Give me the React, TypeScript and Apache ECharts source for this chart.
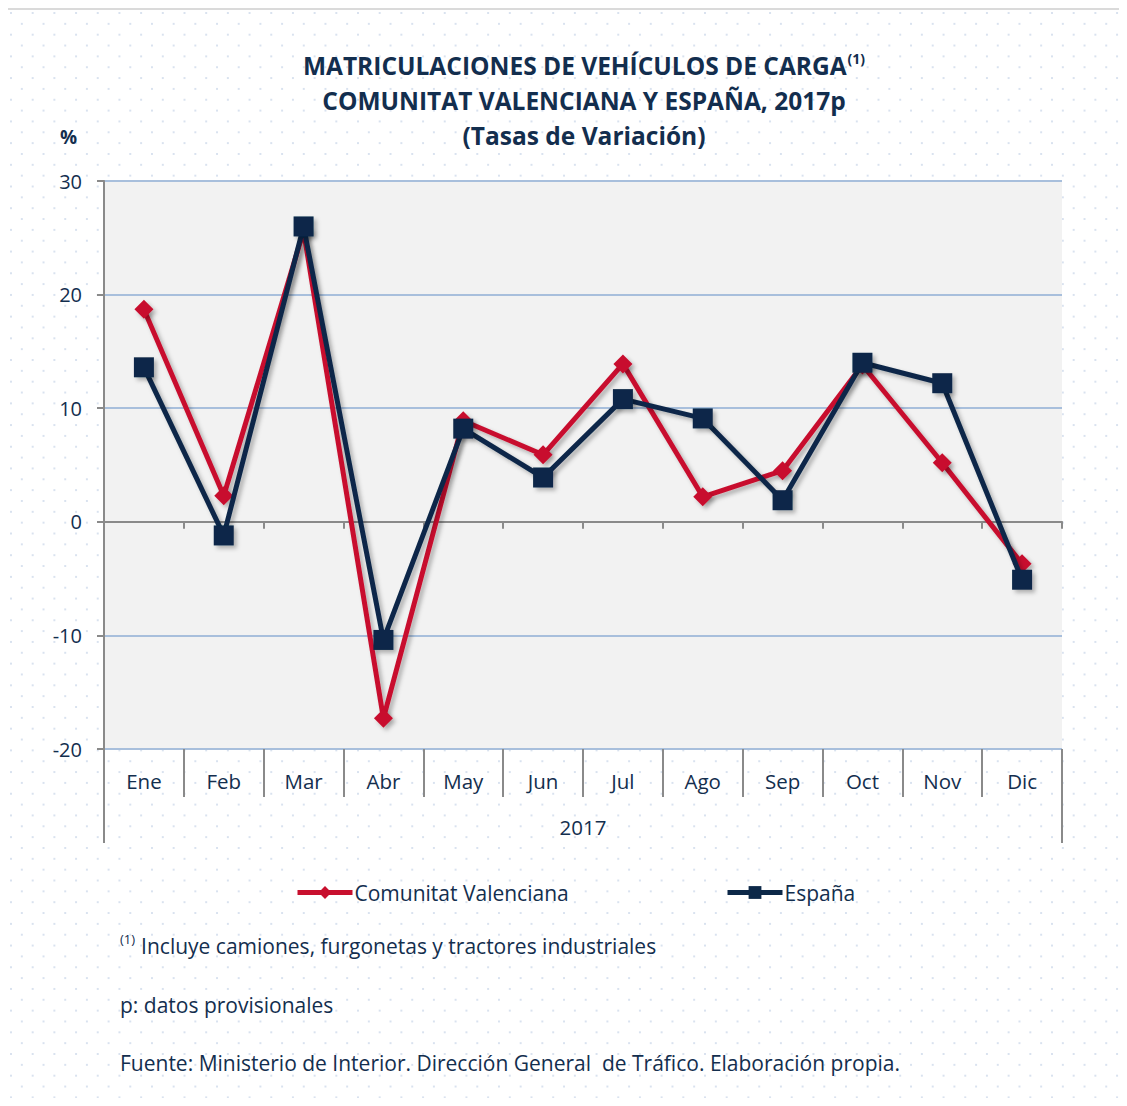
import React, { useEffect, useRef } from "react";
import * as echarts from "echarts";

const months = ["Ene", "Feb", "Mar", "Abr", "May", "Jun", "Jul", "Ago", "Sep", "Oct", "Nov", "Dic"];
const yearLabel = ["2017"];
const valenciana = [18.7, 2.3, 25.6, -17.3, 8.9, 5.9, 13.9, 2.2, 4.5, 13.8, 5.2, -3.7];
const espana = [13.6, -1.2, 26.0, -10.4, 8.2, 3.9, 10.8, 9.1, 1.9, 14.0, 12.2, -5.1];
const seriesNames = ["Comunitat Valenciana", "España"];

const NAVY_TEXT = "#132e4e";
const RED = "#c8102e";
const NAVY = "#0c2848";
const AXIS_GRAY = "#8a8a8a";
const FONT = "'Open Sans', 'Noto Sans', sans-serif";

export default function App() {
  const ref = useRef<HTMLDivElement>(null);
  useEffect(() => {
    if (!ref.current) return;
    const chart = echarts.init(ref.current, undefined, { renderer: "svg" });
    const shadow = {
      shadowColor: "rgba(0,0,0,0.28)",
      shadowBlur: 4,
      shadowOffsetX: 3,
      shadowOffsetY: 3,
    };
    const legendCommon = {
      top: 867,
      itemWidth: 55,
      itemHeight: 16,
      lineStyle: { width: 5 },
      textStyle: { fontSize: 21, color: NAVY_TEXT, fontFamily: FONT, padding: [0, 0, 0, -3] },
    };
    chart.setOption({
      animation: false,
      textStyle: { fontFamily: FONT },
      title: {
        left: 571,
        top: 33,
        textAlign: "center",
        text:
          "{a|MATRICULACIONES DE VEHÍCULOS DE CARGA}{s|(1)}\n{a|COMUNITAT VALENCIANA Y ESPAÑA, 2017p}\n{a|(Tasas de Variación)}",
        textStyle: {
          rich: {
            a: { fontSize: 24.5, fontWeight: "bold", color: NAVY_TEXT, lineHeight: 35, fontFamily: FONT },
            s: {
              fontSize: 14,
              fontWeight: "bold",
              color: NAVY_TEXT,
              lineHeight: 35,
              verticalAlign: "top",
              padding: [3, 0, 0, 1],
              fontFamily: FONT,
            },
          },
        },
      },
      graphic: [
        {
          type: "text",
          left: 52,
          top: 117,
          style: { text: "%", fontSize: 19, fontWeight: "bold", fill: NAVY_TEXT, fontFamily: FONT },
        },
        {
          type: "text",
          left: 112,
          top: 922,
          style: {
            text: "{s|(1)}{g| }{t|Incluye camiones, furgonetas y tractores industriales}",
            rich: {
              s: { fontSize: 13, fill: NAVY_TEXT, verticalAlign: "top", lineHeight: 28, fontFamily: FONT },
              g: { fontSize: 21, width: 6, lineHeight: 28, fontFamily: FONT },
              t: { fontSize: 21, fill: NAVY_TEXT, lineHeight: 28, fontFamily: FONT },
            },
          },
        },
        {
          type: "text",
          left: 112,
          top: 984,
          style: { text: "p: datos provisionales", fontSize: 21, fill: NAVY_TEXT, fontFamily: FONT },
        },
        {
          type: "text",
          left: 112,
          top: 1042,
          style: {
            text: "Fuente: Ministerio de Interior. Dirección General  de Tráfico. Elaboración propia.",
            fontSize: 21,
            fill: NAVY_TEXT,
            fontFamily: FONT,
          },
        },
      ],
      legend: [
        { ...legendCommon, data: [seriesNames[0]], left: 282 },
        { ...legendCommon, data: [seriesNames[1]], left: 712 },
      ],
      grid: {
        left: 96,
        top: 171,
        right: 57,
        bottom: 349,
        show: true,
        backgroundColor: "#f2f2f2",
        borderWidth: 0,
      },
      xAxis: [
        {
          type: "category",
          data: months,
          boundaryGap: true,
          axisLine: { show: true, onZero: true, lineStyle: { color: AXIS_GRAY, width: 2 } },
          axisTick: { show: true, inside: false, length: 7, lineStyle: { color: AXIS_GRAY, width: 2 } },
          axisLabel: { show: false },
          splitLine: { show: false },
        },
        {
          type: "category",
          data: months,
          position: "bottom",
          boundaryGap: true,
          axisLine: { show: false, onZero: false },
          axisTick: { show: true, inside: false, length: 48, lineStyle: { color: AXIS_GRAY, width: 2 } },
          axisLabel: { show: true, margin: 21, fontSize: 20.5, color: NAVY_TEXT, fontFamily: FONT },
          splitLine: { show: false },
        },
        {
          type: "category",
          data: yearLabel,
          position: "bottom",
          boundaryGap: true,
          axisLine: { show: false, onZero: false },
          axisTick: { show: true, inside: false, length: 94, lineStyle: { color: AXIS_GRAY, width: 2 } },
          axisLabel: { show: true, margin: 67, fontSize: 20.5, color: NAVY_TEXT, fontFamily: FONT },
          splitLine: { show: false },
        },
      ],
      yAxis: {
        type: "value",
        min: -20,
        max: 30,
        interval: 10,
        axisLine: { show: true, onZero: false, lineStyle: { color: AXIS_GRAY, width: 2 } },
        axisTick: { show: true, inside: false, length: 7, lineStyle: { color: AXIS_GRAY, width: 2 } },
        axisLabel: { margin: 22, fontSize: 20, color: NAVY_TEXT, fontFamily: FONT },
        splitLine: { show: true, lineStyle: { color: "#a8bfdc", width: 2 } },
      },
      series: [
        {
          name: seriesNames[0],
          type: "line",
          xAxisIndex: 0,
          data: valenciana,
          symbol: "diamond",
          symbolSize: 19,
          color: RED,
          lineStyle: { color: RED, width: 5, ...shadow },
          itemStyle: { color: RED, ...shadow },
          z: 3,
        },
        {
          name: seriesNames[1],
          type: "line",
          xAxisIndex: 0,
          data: espana,
          symbol: "rect",
          symbolSize: 20,
          color: NAVY,
          lineStyle: { color: NAVY, width: 5, ...shadow },
          itemStyle: { color: NAVY, ...shadow },
          z: 4,
        },
      ],
    });
    return () => chart.dispose();
  }, []);

  const dots =
    "radial-gradient(circle, #d9e2ef 1px, transparent 1.3px), radial-gradient(circle, #d9e2ef 1px, transparent 1.3px)";

  return (
    <div
      style={{
        width: 1111,
        height: 1088,
        borderTop: "2px solid #dadada",
        backgroundImage: dots,
        backgroundSize: "21.7px 21.7px, 21.7px 21.7px",
        backgroundPosition: "3px 3px, 13.85px 13.85px",
      }}
    >
      <div ref={ref} style={{ width: 1111, height: 1088 }} />
    </div>
  );
}
